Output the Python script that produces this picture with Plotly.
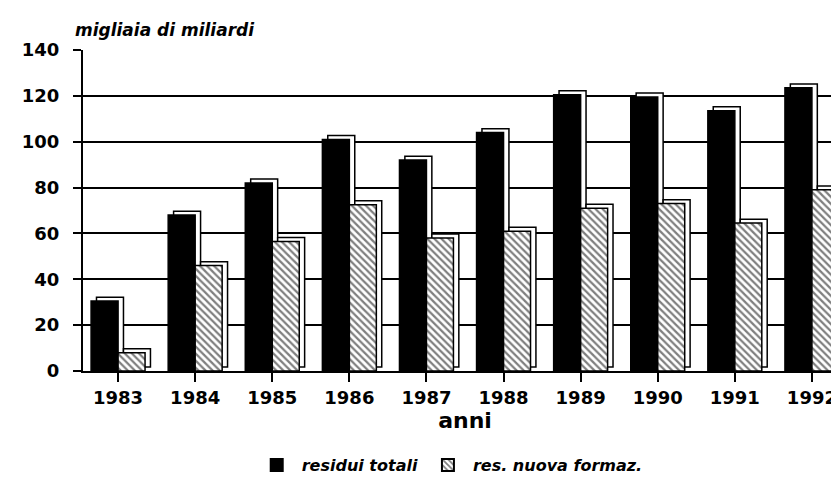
import plotly.graph_objects as go

anni = ["1983", "1984", "1985", "1986", "1987", "1988", "1989", "1990", "1991", "1992"]
residui_totali = [30.5, 68, 82, 101, 92, 104, 120.5, 119.5, 113.5, 123.5]
res_nuova_formaz = [8, 46, 56.5, 72.5, 58, 61, 71, 73, 64.5, 79]
y_ticks = [0, 20, 40, 60, 80, 100, 120, 140]

FONT = "DejaVu Sans"
W = 0.35      # bar width (category units)
DX = 0.07     # 3D depth, x
DY = 1.7      # 3D depth, y

fig = go.Figure()

def add_series(vals, name, offset, pattern, showleg):
    # back face (gives the 3D look)
    fig.add_trace(go.Bar(
        x=anni, y=vals, base=DY, offset=offset + DX, width=W,
        marker=dict(color="white", line=dict(color="black", width=1.5)),
        showlegend=False, hoverinfo="skip"))
    # front face
    fig.add_trace(go.Bar(
        x=anni, y=vals, offset=offset, width=W, name=name,
        marker=dict(color="black" if pattern is None else "white",
                    line=dict(color="black", width=1.5),
                    pattern=pattern),
        showlegend=showleg))

add_series(residui_totali, "residui totali", -W, None, True)
add_series(res_nuova_formaz, "res. nuova formaz.", 0,
           dict(shape="\\", fgcolor="black", bgcolor="white", size=5, solidity=0.45), True)

fig.update_layout(
    width=839, height=502,
    barmode="overlay",
    paper_bgcolor="white", plot_bgcolor="white",
    margin=dict(l=75, r=0, t=42, b=139),
    font=dict(family=FONT, color="black"),
    showlegend=True,
    legend=dict(orientation="h", x=0.48, xanchor="center", y=-0.24, yanchor="top",
                font=dict(family=FONT, size=16, color="black", style="italic", weight="bold"),
                itemsizing="constant", traceorder="normal", itemwidth=40),
    xaxis=dict(
        type="category", range=[-0.455, 9.455],
        showline=True, linecolor="black", linewidth=2,
        ticks="outside", ticklen=9, tickwidth=1.5, tickcolor="black",
        tickfont=dict(family=FONT, size=18, weight="bold"),
        title=dict(text="anni", font=dict(family=FONT, size=22, weight="bold"), standoff=4),
        showgrid=False,
    ),
    yaxis=dict(
        range=[0, 140], tickvals=y_ticks,
        showline=True, linecolor="black", linewidth=2,
        ticks="outside", ticklen=8, tickwidth=1.5, tickcolor="black",
        ticklabelstandoff=10,
        tickfont=dict(family=FONT, size=18, weight="bold"),
        showgrid=True, gridcolor="black", gridwidth=1.5,
        zeroline=False,
    ),
    annotations=[dict(
        text="migliaia di miliardi", xref="paper", yref="paper",
        x=-0.013, y=1.025, xanchor="left", yanchor="bottom", showarrow=False,
        font=dict(family=FONT, size=17, style="italic", weight="bold", color="black"))],
)

fig.write_html("out.html")
